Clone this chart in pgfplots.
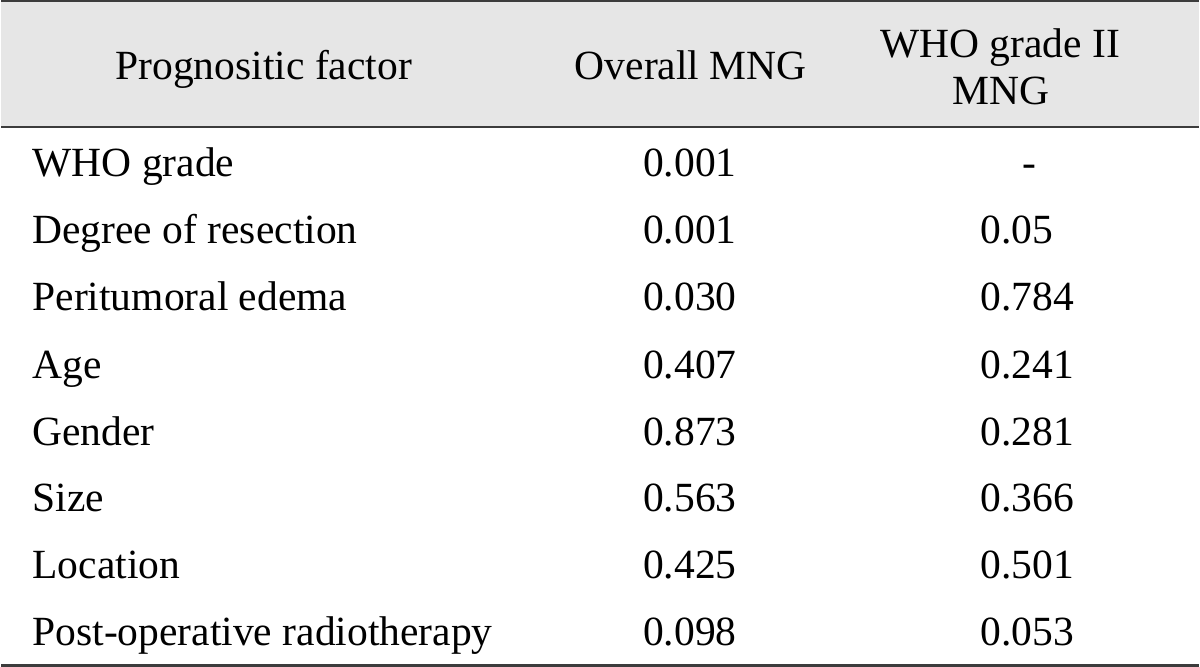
\documentclass[border=0pt]{standalone}
\usepackage{pgfplots}
\pgfplotsset{compat=1.18}
\usepackage{fontspec}
\setmainfont{Liberation Serif}
\definecolor{hdrbg}{RGB}{230,230,230}
\definecolor{rule}{RGB}{60,60,60}
\begin{document}
\begin{tikzpicture}
\begin{axis}[
  width=600pt, height=334.5pt, scale only axis,
  xmin=0, xmax=1200, ymin=0, ymax=669, y dir=reverse,
  hide axis, clip=false,
  every node near coord/.append style={inner sep=0pt, font=\fontsize{20.8}{25}\selectfont, text=black},
]
% header background
\addplot[fill=hdrbg, draw=none] coordinates {(0,0) (1200,0) (1200,127) (0,127) (0,0)};
% rules
\addplot[rule, line width=1pt] coordinates {(0,1) (1200,1)};
\addplot[rule, line width=1pt] coordinates {(0,127) (1200,127)};
\addplot[rule, line width=1.2pt] coordinates {(0,667) (1200,667)};
% header texts (centered)
\addplot[only marks, mark=none, nodes near coords, point meta=explicit symbolic,
  nodes near coords align={anchor=base}]
  table[meta=label, col sep=comma] {
x,y,label
263,80,Prognositic factor
691,80,Overall MNG
1001,58,WHO grade II
1002,105,MNG
};
% first column (left aligned)
\addplot[only marks, mark=none, nodes near coords, point meta=explicit symbolic,
  nodes near coords align={anchor=base west}]
  table[meta=label, col sep=comma] {
x,y,label
31,177,WHO grade
31,244,Degree of resection
31,311,Peritumoral edema
31,379,Age
31,446,Gender
31,513,Size
31,580,Location
31,647,Post-operative radiotherapy
};
% Overall MNG column
\addplot[only marks, mark=none, nodes near coords, point meta=explicit symbolic,
  nodes near coords align={anchor=base}]
  table[meta=label, col sep=comma] {
x,y,label
690,177,0.001
690,244,0.001
690,311,0.030
690,379,0.407
690,446,0.873
690,513,0.563
690,580,0.425
690,647,0.098
};
% WHO grade II MNG column
\addplot[only marks, mark=none, nodes near coords, point meta=explicit symbolic,
  nodes near coords align={anchor=base}]
  table[meta=label, col sep=comma] {
x,y,label
1030,177,-
};
\addplot[only marks, mark=none, nodes near coords, point meta=explicit symbolic,
  nodes near coords align={anchor=base west}]
  table[meta=label, col sep=comma] {
x,y,label
981,244,0.05
981,311,0.784
981,379,0.241
981,446,0.281
981,513,0.366
981,580,0.501
981,647,0.053
};
\end{axis}
\end{tikzpicture}
\end{document}
